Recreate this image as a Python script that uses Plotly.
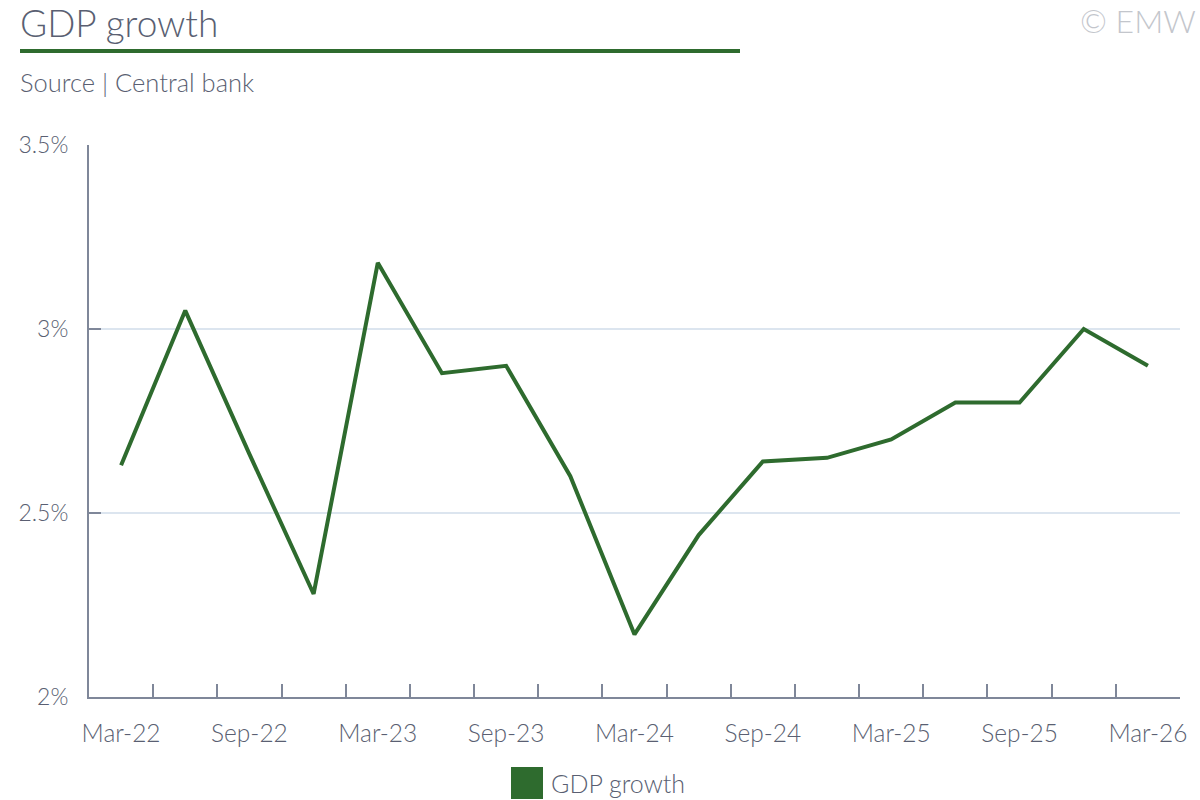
import plotly.graph_objects as go

# quarterly GDP growth, %
quarters = ["Mar-22", "Jun-22", "Sep-22", "Dec-22",
            "Mar-23", "Jun-23", "Sep-23", "Dec-23",
            "Mar-24", "Jun-24", "Sep-24", "Dec-24",
            "Mar-25", "Jun-25", "Sep-25", "Dec-25",
            "Mar-26"]
gdp_growth = [2.63, 3.05, 2.66, 2.28,
              3.18, 2.88, 2.90, 2.60,
              2.17, 2.44, 2.64, 2.65,
              2.70, 2.80, 2.80, 3.00,
              2.90]

y_ticks = [2, 2.5, 3, 3.5]
y_labels = ["2%", "2.5%", "3%", "3.5%"]

green = "#2e6b2e"
text_col = "#5a5f72"
axis_col = "#7f8799"
grid_col = "#dce5ef"
font = "Lato"
weight = 300

# plot area in pixels
L, R, T, B = 89, 1180, 145, 697
PW, PH = R - L, B - T


def px(x):
    return (x - L) / PW


def py(y):
    return (B - y) / PH


idx = list(range(len(quarters)))

fig = go.Figure()
fig.add_trace(go.Scatter(
    x=idx, y=gdp_growth, mode="lines", name="GDP growth",
    line=dict(color=green, width=4), showlegend=False,
))

fig.update_layout(
    width=1200, height=800,
    paper_bgcolor="white", plot_bgcolor="white",
    margin=dict(l=L, r=1200 - R, t=T, b=800 - B),
    font=dict(family=font, color=text_col, size=22, weight=weight),
)

fig.update_xaxes(
    range=[-0.5, len(quarters) - 0.5],
    tickvals=idx[::2], ticktext=quarters[::2],
    ticks="inside", ticklen=0,
    minor=dict(tickvals=[i - 0.5 for i in range(len(quarters) + 1)],
               ticks="inside", ticklen=13, tickcolor=axis_col, tickwidth=2),
    showline=True, linecolor=axis_col, linewidth=2,
    showgrid=False, zeroline=False,
    tickfont=dict(size=24.5, color=text_col, weight=weight),
    ticklabelstandoff=14,
)
fig.update_yaxes(
    range=[2, 3.5],
    tickvals=y_ticks, ticktext=y_labels,
    ticks="inside", ticklen=12, tickcolor=axis_col, tickwidth=2,
    showline=True, linecolor=axis_col, linewidth=2,
    showgrid=True, gridcolor=grid_col, gridwidth=1.5,
    zeroline=False,
    tickfont=dict(size=23, color=text_col, weight=weight),
    ticklabelstandoff=14,
)

# header
fig.add_annotation(text="GDP growth", xref="paper", yref="paper",
                   x=px(18), y=py(22),
                   xanchor="left", yanchor="middle", showarrow=False,
                   font=dict(size=37, color=text_col, family=font, weight=weight))
fig.add_shape(type="line", xref="paper", yref="paper",
              x0=px(20), x1=px(740), y0=py(51), y1=py(51),
              line=dict(color=green, width=4))
fig.add_annotation(text="Source | Central bank", xref="paper", yref="paper",
                   x=px(18), y=py(82),
                   xanchor="left", yanchor="middle", showarrow=False,
                   font=dict(size=25.5, color=text_col, family=font, weight=weight))
fig.add_annotation(text="© EMW", xref="paper", yref="paper",
                   x=px(1198), y=py(20),
                   xanchor="right", yanchor="middle", showarrow=False,
                   font=dict(size=32, color="#c3c6cc", family=font, weight=weight))

# legend drawn by hand so the key is a large square
fig.add_shape(type="rect", xref="paper", yref="paper",
              x0=px(511), x1=px(543), y0=py(767), y1=py(799),
              fillcolor=green, line=dict(width=0))
fig.add_annotation(text="GDP growth", xref="paper", yref="paper",
                   x=px(549), y=py(783),
                   xanchor="left", yanchor="middle", showarrow=False,
                   font=dict(size=25, color=text_col, family=font, weight=weight))

# page body has a default margin; drop it so the figure sits at 0,0
fig.write_html("out.html", config={"displayModeBar": False},
               post_script="document.body.style.margin='0px';")
